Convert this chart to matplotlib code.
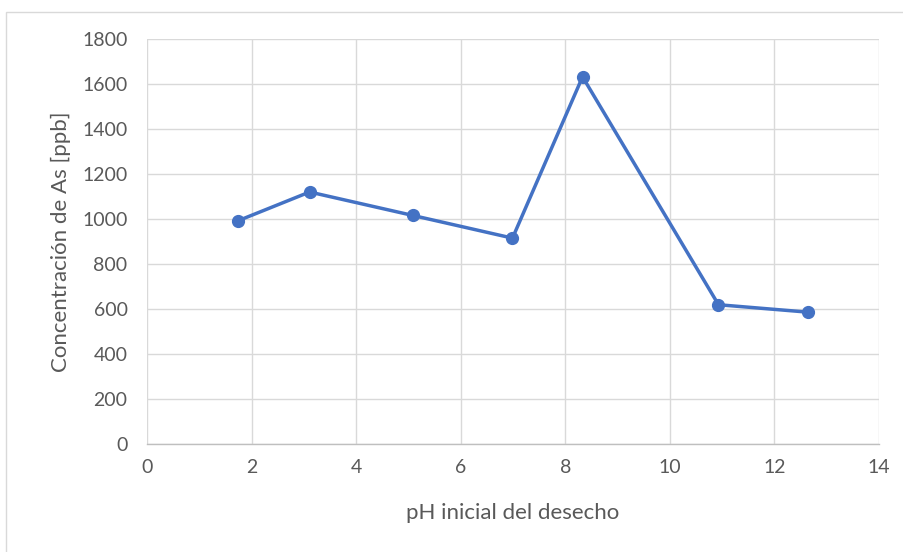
import matplotlib
matplotlib.use("Agg")
import matplotlib.pyplot as plt
from matplotlib.patches import Rectangle

ph = [1.75, 3.11, 5.08, 6.99, 8.33, 10.93, 12.64]
arsenic = [993, 1120, 1016, 915, 1632, 619, 586]
xticks = [0, 2, 4, 6, 8, 10, 12, 14]
yticks = [0, 200, 400, 600, 800, 1000, 1200, 1400, 1600, 1800]

plt.rcParams['font.family'] = ['Lato', 'DejaVu Sans']
txt = '#595959'

fig = plt.figure(figsize=(9.04, 5.52), dpi=100)
fig.patches.append(Rectangle((6/904, -0.01), 1.0, 1 - 12/552 + 0.01, transform=fig.transFigure,
                             fill=False, edgecolor='#d9d9d9', linewidth=1))
ax = fig.add_axes([147/904, 1 - 444/552, (879-147)/904, (444-39)/552])

ax.plot(ph, arsenic, color='#4472C4', linewidth=2.5, marker='o', markersize=8.5, zorder=3)

ax.set_xlim(0, 14)
ax.set_ylim(0, 1800)
ax.set_xticks(xticks)
ax.set_yticks(yticks)
ax.grid(True, color='#d9d9d9', linewidth=1)
ax.set_axisbelow(True)
for s in ['top', 'right', 'left']:
    ax.spines[s].set_visible(False)
ax.spines['bottom'].set_color('#bfbfbf')
ax.spines['bottom'].set_linewidth(1)
ax.tick_params(axis='both', length=0, labelsize=14, colors=txt)
ax.tick_params(axis='x', pad=11)
ax.tick_params(axis='y', pad=14)
ax.set_xlabel('pH inicial del desecho', fontsize=16, color=txt, labelpad=19)
ax.set_ylabel('Concentración de As [ppb]', fontsize=16, color=txt, labelpad=8)

fig.savefig('out.png', dpi=100)
